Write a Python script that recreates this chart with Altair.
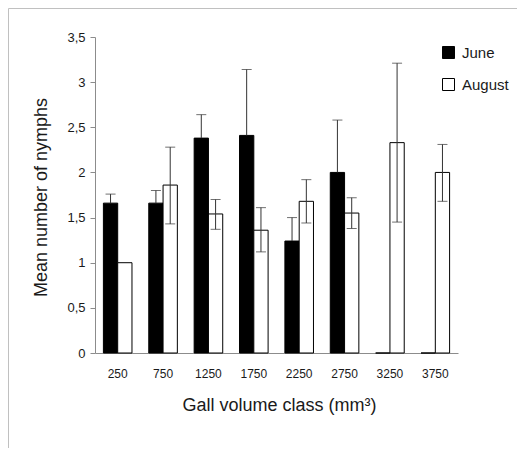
import altair as alt
import pandas as pd

categories = ["250", "750", "1250", "1750", "2250", "2750", "3250", "3750"]
series = ["June", "August"]
june_mean = [1.66, 1.66, 2.38, 2.41, 1.24, 2.00, 0.0, 0.0]
june_upper = [1.76, 1.80, 2.64, 3.14, 1.50, 2.58, None, None]
august_mean = [1.00, 1.86, 1.54, 1.36, 1.68, 1.55, 2.33, 2.00]
august_upper = [None, 2.28, 1.70, 1.61, 1.92, 1.72, 3.21, 2.31]
august_lower = [None, 1.43, 1.37, 1.12, 1.44, 1.38, 1.45, 1.68]
y_ticks = [0, 0.5, 1, 1.5, 2, 2.5, 3, 3.5]

FONT = "Liberation Sans, Arial"

bar_rows, err_rows, cap_rows = [], [], []
for i, c in enumerate(categories):
    bar_rows.append({"cat": c, "series": "June", "mean": june_mean[i]})
    bar_rows.append({"cat": c, "series": "August", "mean": august_mean[i]})
    if june_upper[i] is not None:
        err_rows.append({"cat": c, "series": "June", "lo": june_mean[i], "hi": june_upper[i]})
        cap_rows.append({"cat": c, "series": "June", "v": june_upper[i]})
    if august_upper[i] is not None:
        err_rows.append({"cat": c, "series": "August", "lo": august_lower[i], "hi": august_upper[i]})
        cap_rows.append({"cat": c, "series": "August", "v": august_upper[i]})
        cap_rows.append({"cat": c, "series": "August", "v": august_lower[i]})

bars_df = pd.DataFrame(bar_rows)
err_df = pd.DataFrame(err_rows)
cap_df = pd.DataFrame(cap_rows)

W, H = 363, 316
PAD = {"left": 87, "top": 29, "right": 59, "bottom": 95}

x_enc = alt.X(
    "cat:N",
    sort=categories,
    scale=alt.Scale(paddingInner=0.37, paddingOuter=0.185),
    axis=alt.Axis(
        title="Gall volume class (mm³)",
        labelAngle=0,
        ticks=False,
        domainColor="#8c8c8c",
        labelFontSize=12,
        labelPadding=15,
        labelColor="#1a1a1a",
        titleFontSize=18,
        titleFontWeight="normal",
        titleColor="#1a1a1a",
        titleX=184,
        titleY=57,
        titleBaseline="alphabetic",
        titleAlign="center",
    ),
)
xo_enc = alt.XOffset("series:N", sort=series, scale=alt.Scale(paddingInner=0, paddingOuter=0))
y_scale = alt.Scale(domain=[0, 3.5], nice=False)

bars = alt.Chart(bars_df).mark_bar(stroke="black", strokeWidth=1).encode(
    x=x_enc,
    xOffset=xo_enc,
    y=alt.Y(
        "mean:Q",
        scale=y_scale,
        axis=alt.Axis(
            title="Mean number of nymphs",
            values=y_ticks,
            labelExpr="replace(toString(datum.value), '.', ',')",
            grid=False,
            tickSize=5,
            tickColor="#8c8c8c",
            domainColor="#8c8c8c",
            labelFontSize=13,
            labelPadding=5,
            labelColor="#1a1a1a",
            titleFontSize=18,
            titleFontWeight="normal",
            titleColor="#1a1a1a",
            titleX=-49,
            titleY=160,
            titleAngle=270,
            titleBaseline="alphabetic",
            titleAlign="center",
        ),
    ),
    fill=alt.Fill(
        "series:N",
        sort=series,
        scale=alt.Scale(domain=series, range=["black", "white"]),
        legend=alt.Legend(
            title=None,
            orient="none",
            legendX=346,
            legendY=8,
            symbolType="square",
            symbolSize=144,
            symbolStrokeColor="black",
            symbolStrokeWidth=1,
            labelFontSize=15,
            labelColor="#1a1a1a",
            labelOffset=6,
            rowPadding=15,
            padding=0,
        ),
    ),
)

errs = alt.Chart(err_df).mark_rule(color="#333333", strokeWidth=1).encode(
    x=alt.X("cat:N", sort=categories),
    xOffset=alt.XOffset("series:N", sort=series),
    y=alt.Y("lo:Q", scale=y_scale),
    y2="hi:Q",
)

caps = alt.Chart(cap_df).mark_tick(color="#333333", thickness=1, size=10).encode(
    x=alt.X("cat:N", sort=categories),
    xOffset=alt.XOffset("series:N", sort=series),
    y=alt.Y("v:Q", scale=y_scale),
)

one = pd.DataFrame({"a": [0]})
frame_top = alt.Chart(one).mark_rule(color="#c0c0c0", strokeWidth=1).encode(
    x=alt.value(-PAD["left"] + 0.5), x2=alt.value(W + PAD["right"]), y=alt.value(-PAD["top"] + 0.5)
)
frame_left = alt.Chart(one).mark_rule(color="#c0c0c0", strokeWidth=1).encode(
    x=alt.value(-PAD["left"] + 0.5), y=alt.value(-PAD["top"] + 0.5), y2=alt.value(H + PAD["bottom"])
)

chart = (
    alt.layer(bars, errs, caps, frame_top, frame_left)
    .properties(width=W, height=H, padding=PAD, autosize=alt.AutoSizeParams(type="none"))
    .configure(font=FONT)
    .configure_view(stroke=None)
)

chart.save("out.html", embed_options={"renderer": "svg", "actions": False})
